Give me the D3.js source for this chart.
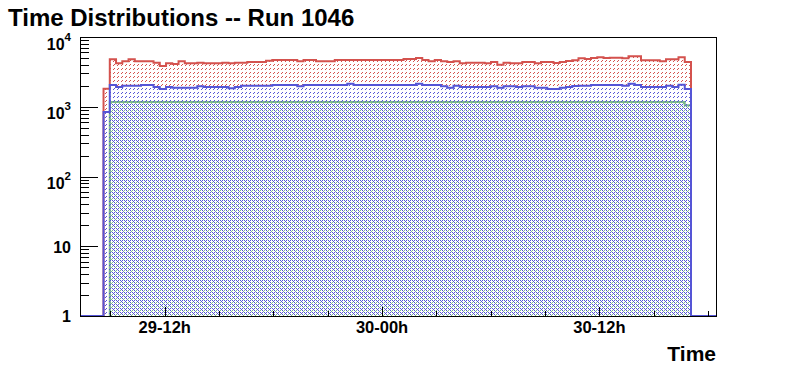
<!DOCTYPE html>
<html><head><meta charset="utf-8">
<script src="https://cdn.jsdelivr.net/npm/d3@7"></script>
<style>
body{margin:0;background:#fff}
svg{display:block}
text{font-family:"Liberation Sans",Arial,Helvetica,sans-serif;font-weight:bold;fill:#000}
</style>
</head><body>
<svg id="chart" width="796" height="372"></svg>
<script>
// ---------- data ----------
const titleText = "Time Distributions -- Run 1046";
const xAxisTitle = "Time";
// time in hours counted from day 29, 00:00
const xDomain = [7.32, 42.44];
const majorTicks = [12, 24, 36];
const majorLabels = ["29-12h", "30-00h", "30-12h"];
const minorTicks = [9, 15, 18, 21, 27, 30, 33, 39, 42];
const yDomain = [1, 10000];
const yDecades = [1, 10, 100, 1000, 10000];
const binStart = 8.62;
const binWidth = 0.3451;

const redVals = [
  1815, 4790, 4200, 4490, 4790, 4490, 4490, 4490, 4290, 3840,
  4200, 4100, 4490, 4200, 4200, 4290, 4200, 4200, 4200, 4290,
  4200, 4290, 4290, 4390, 4390, 4390, 4580, 4680, 4680, 4680,
  4680, 4490, 4680, 4680, 4490, 4490, 4490, 4680, 4680, 4680,
  4680, 4680, 4680, 4680, 4680, 4680, 4680, 4680, 4840, 4840,
  5000, 4680, 4490, 4680, 4490, 4390, 4490, 4200, 4290, 4290,
  4290, 4200, 4390, 4010, 4290, 4200, 4200, 4390, 4390, 4200,
  4390, 4390, 4240, 4390, 4530, 4640, 4960, 4840, 5000, 5120,
  5000, 5050, 5050, 4960, 5290, 5290, 4640, 4640, 4640, 4490,
  4790, 4790, 5120, 4390
];
const blueVals = [
  841, 2050, 1920, 2000, 2000, 2000, 2050, 2050, 1920, 1800,
  1920, 1880, 1880, 1880, 1880, 1960, 1920, 1920, 1920, 1920,
  1840, 1920, 2000, 2000, 2000, 2000, 2000, 2050, 2050, 2050,
  2050, 1960, 2050, 2050, 2050, 2050, 2050, 2050, 2050, 2140,
  2050, 2050, 2050, 2050, 2050, 2050, 2050, 2050, 2050, 2050,
  2140, 2050, 2050, 2050, 1960, 1880, 2000, 1920, 1920, 1920,
  1920, 1920, 1960, 1880, 1960, 1960, 1920, 1960, 1960, 1880,
  1880, 1800, 1800, 1880, 1920, 1980, 2000, 2000, 2050, 2050,
  2050, 2050, 2050, 2000, 2140, 2050, 1920, 1920, 1920, 1920,
  2000, 1920, 2070, 1800
];
const greenVals = [
  0, 1170, 1170, 1170, 1170, 1170, 1170, 1170, 1170, 1170,
  1170, 1170, 1170, 1170, 1170, 1170, 1170, 1170, 1170, 1170,
  1170, 1170, 1170, 1170, 1170, 1170, 1170, 1170, 1170, 1170,
  1170, 1170, 1170, 1170, 1170, 1170, 1170, 1170, 1170, 1170,
  1170, 1170, 1170, 1170, 1170, 1170, 1170, 1170, 1170, 1170,
  1170, 1170, 1170, 1170, 1170, 1170, 1170, 1170, 1170, 1170,
  1170, 1170, 1170, 1170, 1170, 1170, 1170, 1170, 1170, 1170,
  1170, 1170, 1170, 1170, 1170, 1170, 1170, 1170, 1170, 1170,
  1170, 1170, 1170, 1170, 1170, 1170, 1170, 1170, 1170, 1170,
  1170, 1170, 1170, 1050
];

// ---------- layout ----------
const frame = {left: 80, right: 716, top: 37, bottom: 316};
const colRed = "#d4524e", colBlue = "#5555d6", colGreen = "#7db98c";

const svg = d3.select("#chart");
const x = d3.scaleLinear().domain(xDomain).range([frame.left, frame.right]);
const y = d3.scaleLog().domain(yDomain).range([frame.bottom, frame.top]);

// ---------- patterns ----------
const defs = svg.append("defs");
function pattern(id, size, pixels) {
  const p = defs.append("pattern").attr("id", id)
    .attr("patternUnits", "userSpaceOnUse").attr("width", size).attr("height", size);
  pixels.forEach(([px, py, c]) => p.append("rect").attr("x", px).attr("y", py)
    .attr("width", 1).attr("height", 1).attr("fill", c).attr("shape-rendering", "crispEdges"));
}
pattern("hatchRed", 4, [[2, 0, colRed], [1, 1, colRed]]);
pattern("hatchBlue", 4, [[2, 0, colBlue], [1, 1, colBlue]]);
pattern("dotGreen", 4, [
  [0, 0, colBlue], [2, 2, colBlue], [0, 2, colGreen], [3, 3, colGreen]
]);

// ---------- histogram helpers ----------
function edge(i) { return binStart + i * binWidth; }
function stepPoints(vals) {
  const pts = [];
  const first = vals.findIndex(v => v > 0);
  let last = vals.length - 1;
  while (last >= 0 && !(vals[last] > 0)) last--;
  pts.push([x(edge(first)), y(1)]);
  for (let i = first; i <= last; i++) {
    const v = Math.max(vals[i], 1);
    pts.push([x(edge(i)), y(v)]);
    pts.push([x(edge(i + 1)), y(v)]);
  }
  pts.push([x(edge(last + 1)), y(1)]);
  return pts;
}
const line = d3.line();

function drawHist(vals, fillId, color, bottomLine) {
  const pts = stepPoints(vals);
  svg.append("path").attr("d", line(pts) + "Z")
    .attr("fill", `url(#${fillId})`).attr("stroke", "none")
    .attr("shape-rendering", "crispEdges");
  let outline = pts;
  if (bottomLine) {
    outline = [[x(xDomain[0]), y(1)], ...pts, [x(xDomain[1]), y(1)]];
  }
  svg.append("path").attr("d", line(outline))
    .attr("fill", "none").attr("stroke", color).attr("stroke-width", 2)
    .attr("stroke-linejoin", "miter");
}

drawHist(redVals, "hatchRed", colRed, false);
drawHist(greenVals, "dotGreen", colGreen, false);
drawHist(blueVals, "hatchBlue", colBlue, true);

// ---------- frame & axes ----------
svg.append("rect").attr("x", frame.left).attr("y", frame.top)
  .attr("width", frame.right - frame.left).attr("height", frame.bottom - frame.top)
  .attr("fill", "none").attr("stroke", "#000").attr("stroke-width", 1)
  .attr("shape-rendering", "crispEdges");

const axG = svg.append("g").attr("shape-rendering", "crispEdges");
const yMinor = [];
yDecades.slice(0, -1).forEach(d => [2, 3, 4, 5, 6, 7, 8, 9].forEach(k => yMinor.push(d * k)));
axG.selectAll(".ymin").data(yMinor).enter().append("line")
  .attr("x1", frame.left).attr("x2", frame.left + 9)
  .attr("y1", d => Math.round(y(d)) + 0.5).attr("y2", d => Math.round(y(d)) + 0.5)
  .attr("stroke", "#000");
axG.selectAll(".ymaj").data(yDecades).enter().append("line")
  .attr("x1", frame.left).attr("x2", frame.left + 18)
  .attr("y1", d => Math.round(y(d)) + 0.5).attr("y2", d => Math.round(y(d)) + 0.5)
  .attr("stroke", "#000");
axG.selectAll(".xmin").data(minorTicks).enter().append("line")
  .attr("x1", d => Math.round(x(d)) + 0.5).attr("x2", d => Math.round(x(d)) + 0.5)
  .attr("y1", frame.bottom).attr("y2", frame.bottom - 5)
  .attr("stroke", "#000");
axG.selectAll(".xmaj").data(majorTicks).enter().append("line")
  .attr("x1", d => Math.round(x(d)) + 0.5).attr("x2", d => Math.round(x(d)) + 0.5)
  .attr("y1", frame.bottom).attr("y2", frame.bottom - 9)
  .attr("stroke", "#000");

// y labels
const yl = svg.append("g");
yDecades.forEach(d => {
  const e = Math.round(Math.log10(d));
  const t = yl.append("text").attr("text-anchor", "end").attr("font-size", 16);
  if (e === 0) {
    t.attr("x", 71).attr("y", y(d) + 6).text("1");
  } else if (e === 1) {
    t.attr("x", 71).attr("y", y(d) + 7).text("10");
  } else {
    t.attr("x", 71).attr("y", y(d) + 12.5);
    t.append("tspan").text("10");
    t.append("tspan").attr("font-size", 11.5).attr("dy", -9).text(String(e));
  }
});

// x labels
svg.append("g").selectAll("text").data(majorTicks).enter().append("text")
  .attr("x", d => x(d)).attr("y", 333).attr("text-anchor", "middle")
  .attr("font-size", 16.5).text((d, i) => majorLabels[i]);

// titles
svg.append("text").attr("x", 716).attr("y", 361).attr("text-anchor", "end")
  .attr("font-size", 21).text(xAxisTitle);
svg.append("text").attr("x", 8).attr("y", 25.5).attr("font-size", 24)
  .text(titleText);
</script>
</body></html>
